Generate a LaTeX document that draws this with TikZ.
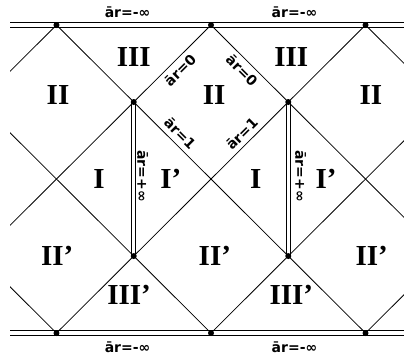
\documentclass[tikz,border=0pt]{standalone}
\usepackage{fontspec}
\setmainfont{Liberation Serif}
\newfontfamily\labfont{DejaVu Sans}
\usetikzlibrary{positioning}
\tikzset{nul/.style={line width=.8pt}, rail/.style={line width=.9pt}, horizon/.style={double, double distance=3.5pt, line width=.7pt}, pt/.style={circle, fill, inner sep=0pt, minimum size=6pt}, reg/.style={font=\fontsize{29}{29}\selectfont\bfseries, inner sep=0pt}, lab/.style={font=\labfont\bfseries\fontsize{14}{14}\selectfont, inner sep=0pt}}

\begin{document}
\begin{tikzpicture}[x=77.25pt, y=77pt]
\useasboundingbox (-2.731,-2.312) rectangle (2.498,2.325);
\coordinate (t1) at (-2,2); \coordinate (t2) at (0,2); \coordinate (t3) at (2,2);
\coordinate (b1) at (-2,-2); \coordinate (b2) at (0,-2); \coordinate (b3) at (2,-2);
\coordinate (u1) at (-1,1); \coordinate (u2) at (1,1);
\coordinate (d1) at (-1,-1); \coordinate (d2) at (1,-1);
\coordinate (hl) at (-2.6,2); \coordinate (hr) at (2.498,2);
\coordinate (gl) at (-2.6,-2); \coordinate (gr) at (2.498,-2);
\begin{scope}
\clip (-2.6,-2) rectangle (2.498,2);
\foreach \k in {-4,-2,...,4} {
  \draw[nul] (\k-2,-2) -- (\k+2,2);
  \draw[nul] (\k+2,-2) -- (\k-2,2);
}
\end{scope}
\foreach \s in {-2.2pt,2.2pt} {
  \draw[rail] ([yshift=\s]hl) -- ([yshift=\s]hr);
  \draw[rail] ([yshift=\s]gl) -- ([yshift=\s]gr);
}
\draw[horizon] (u1) -- (d1);
\draw[horizon] (u2) -- (d2);
\foreach \p in {t1,t2,t3,b1,b2,b3,u1,u2,d1,d2}
  \node[pt] (\p-dot) at (\p) {};

\node[lab] (ht1) at (-1.08,2.17) {ār=-∞};
\node[lab] (ht2) at (1.08,2.17) {ār=-∞};
\node[lab] (hb1) at (-1.08,-2.18) {ār=-∞};
\node[lab] (hb2) at (1.08,-2.18) {ār=-∞};
\node[lab, rotate=45] (z1) at (-0.40,1.41) {ār=0};
\node[lab, rotate=-45] (z2) at (0.40,1.41) {ār=0};
\node[lab, rotate=-45] (o1) at (-0.40,0.59) {ār=1};
\node[lab, rotate=45] (o2) at (0.40,0.59) {ār=1};
\node[lab, rotate=-90] (p1) at (-0.885,0.04) {ār=+∞};
\node[lab, rotate=-90] (p2) at (1.16,0.04) {ār=+∞};

\node[reg] (r3a) at (-1,1.58) {III};
\node[reg] (r3b) at (1.04,1.58) {III};
\node[reg] (r2a) at (-1.98,1.09) {II};
\node[reg] (r2b) at (0.04,1.09) {II};
\node[reg] (r2c) at (2.07,1.09) {II};
\node[reg] (r1a) at (-1.45,0) {I};
\node[reg] (r1pa) at (-0.52,0) {I’};
\node[reg] (r1b) at (0.58,0) {I};
\node[reg] (r1pb) at (1.49,0) {I’};
\node[reg] (r2pa) at (-1.99,-1) {II’};
\node[reg] (r2pb) at (0.05,-1) {II’};
\node[reg] (r2pc) at (2.08,-1) {II’};
\node[reg] (r3pa) at (-1.06,-1.5) {III’};
\node[reg] (r3pb) at (1.04,-1.5) {III’};
\end{tikzpicture}
\end{document}
